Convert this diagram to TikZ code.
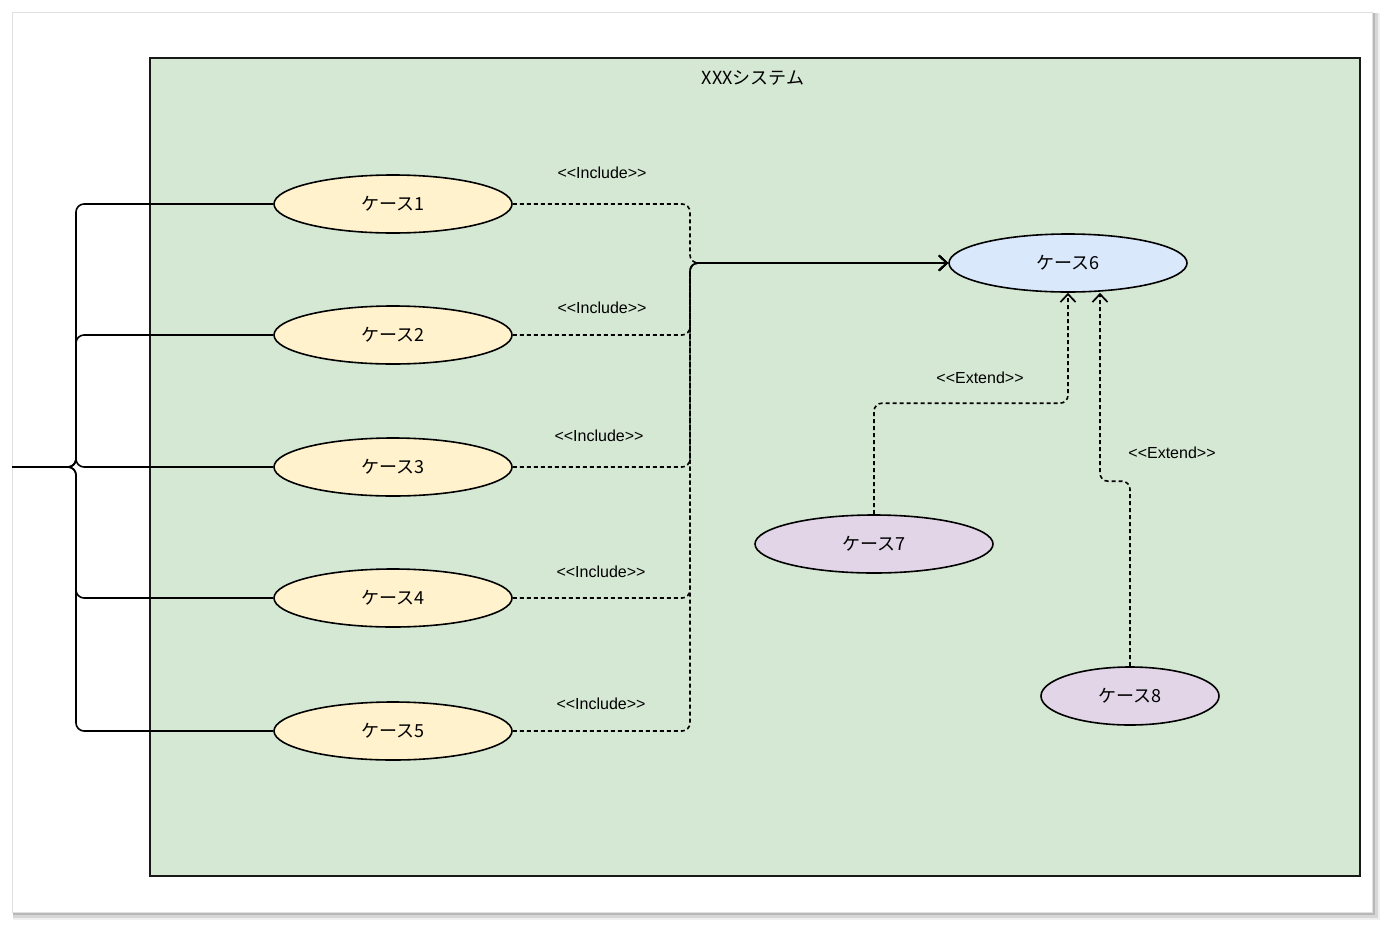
\documentclass[tikz,border=0pt]{standalone}
\usepackage{fontspec}
\setmainfont{Liberation Sans}[Ligatures=TeXOff]
\newfontfamily\jpfont{Noto Sans CJK JP}
\usetikzlibrary{arrows.meta,shapes.geometric}
\definecolor{sysgreen}{HTML}{D5E8D4}
\definecolor{caseyellow}{HTML}{FFF2CC}
\definecolor{caseblue}{HTML}{DAE8FC}
\definecolor{casepurple}{HTML}{E1D5E7}

\begin{document}
\begin{tikzpicture}[x=1pt, y=-1pt,
        usecase/.style={ellipse, draw=black, line width=1.6pt, minimum width=238pt, minimum height=58pt, inner sep=0pt, font=\fontsize{18}{21}\selectfont\jpfont},
        assoc/.style={line width=1.6pt, rounded corners=8pt},
        dep/.style={line width=1.6pt, dash pattern=on 4pt off 3pt, rounded corners=8pt, -{Straight Barb[length=8pt,width=15pt,line width=1.7pt]}},
        tag/.style={font=\fontsize{16}{19}\selectfont, inner sep=0pt}
      ]
        \useasboundingbox (0,0) rectangle (1384,924);
        % page with shadow
        \fill[black!6]  (13,13) rectangle (1380,920);
        \fill[black!16] (13,13) rectangle (1378,918);
        \fill[black!28] (13,13) rectangle (1375,915);
        \filldraw[fill=white, draw=black!12] (12,12) rectangle (1372,912);

        \draw[fill=sysgreen, line width=2pt, draw=black!90] (150,58) rectangle (1360,876);
        \node[font=\fontsize{18}{21}\selectfont\jpfont] (systitle) at (753,78) {XXXシステム};

        \node[usecase, fill=caseyellow] at (393,204) (c1) {ケース1};
        \node[usecase, fill=caseyellow] at (393,335) (c2) {ケース2};
        \node[usecase, fill=caseyellow] at (393,467) (c3) {ケース3};
        \node[usecase, fill=caseyellow] at (393,598) (c4) {ケース4};
        \node[usecase, fill=caseyellow] at (393,731) (c5) {ケース5};
        \node[usecase, fill=caseblue]   at (1068,263) (c6) {ケース6};
        \node[usecase, fill=casepurple] at (874,544) (c7) {ケース7};
        \node[usecase, fill=casepurple, minimum width=178pt] at (1130,696) (c8) {ケース8};

        \coordinate (actor) at (12,467);
        \coordinate (hub) at (690,263);

        \foreach \c in {c1,c2,c3,c4,c5} {
          \draw[assoc] (actor) -- ++(64,0) |- (\c.west);
          \draw[dep] (\c.east) -| (hub) -- (c6.west);
        }

        \draw[dep] (c7.north) -- ++(0,-111) -| (c6.south);
        \draw[dep] (c8.north) -- ++(0,-185) -| ([xshift=32pt]c6.south);

        \node[tag] (inc1) at (602,173) {<<Include>>};
        \node[tag] (inc2) at (602,308) {<<Include>>};
        \node[tag] (inc3) at (599,436) {<<Include>>};
        \node[tag] (inc4) at (601,572) {<<Include>>};
        \node[tag] (inc5) at (601,704) {<<Include>>};
        \node[tag] (ext1) at (980,378) {<<Extend>>};
        \node[tag] (ext2) at (1172,453) {<<Extend>>};
      \end{tikzpicture}
\end{document}
